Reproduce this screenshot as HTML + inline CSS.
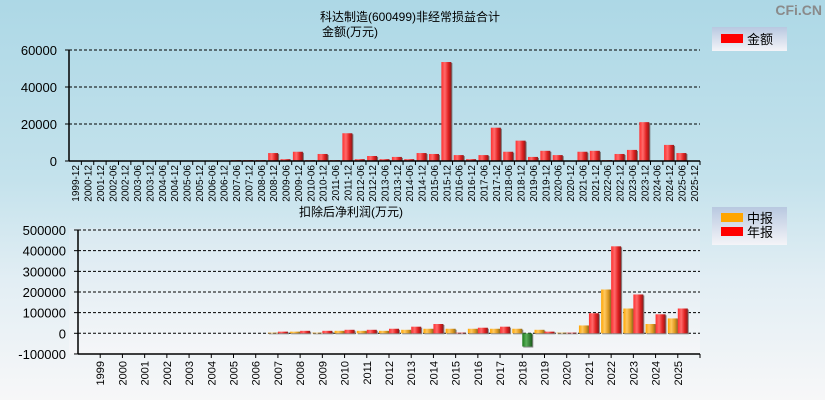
<!DOCTYPE html>
<html><head><meta charset="utf-8"><style>
html,body{margin:0;padding:0;}
body{width:825px;height:400px;overflow:hidden;background:linear-gradient(#add8e6 0%,#c4e2ec 45%,#e2eef4 70%,#f7f7f8 100%);font-family:"Liberation Sans","Noto Sans CJK SC",sans-serif;}
svg{position:absolute;left:0;top:0;}
text{font-family:"Liberation Sans","Noto Sans CJK SC",sans-serif;}
</style></head><body>
<svg id="c" width="825" height="400" xmlns="http://www.w3.org/2000/svg">
<defs>
<linearGradient id="plot2" x1="0" y1="0" x2="0" y2="1"><stop offset="0" stop-color="#d9e9f1"/><stop offset="1" stop-color="#f5f6f8"/></linearGradient>
<linearGradient id="gRed" x1="0" y1="0" x2="1" y2="0"><stop offset="0" stop-color="#ff3030"/><stop offset="0.35" stop-color="#ff6a6a"/><stop offset="0.7" stop-color="#e02020"/><stop offset="1" stop-color="#8a1a1a"/></linearGradient>
<linearGradient id="gOr" x1="0" y1="0" x2="1" y2="0"><stop offset="0" stop-color="#ffa500"/><stop offset="0.35" stop-color="#ffc860"/><stop offset="0.7" stop-color="#e09a20"/><stop offset="1" stop-color="#8a6a20"/></linearGradient>
<linearGradient id="gGr" x1="0" y1="0" x2="1" y2="0"><stop offset="0" stop-color="#1a7a1a"/><stop offset="0.4" stop-color="#5ab05a"/><stop offset="1" stop-color="#1a5a1a"/></linearGradient>
<linearGradient id="gLeg" x1="0" y1="0" x2="0" y2="1"><stop offset="0" stop-color="#b8c8e0"/><stop offset="1" stop-color="#f4f4f8"/></linearGradient>
</defs>
<rect x="69" y="228" width="631" height="126" fill="url(#plot2)"/>
<text x="822" y="15" text-anchor="end" font-size="14" font-weight="bold" fill="#8a8a8a">CFi.CN</text>
<text x="410" y="21" text-anchor="middle" font-size="12" fill="#000">科达制造(600499)非经常损益合计</text>
<text x="350" y="36" text-anchor="middle" font-size="12" fill="#000">金额(万元)</text>
<text x="351" y="216" text-anchor="middle" font-size="12" fill="#000">扣除后净利润(万元)</text>
<g>
<rect x="712" y="27" width="75" height="24" fill="url(#gLeg)"/>
<rect x="721" y="34" width="22" height="9" fill="#ff0000"/>
<text x="747" y="44" font-size="13">金额</text>
</g>
<g>
<rect x="712" y="207" width="75" height="38" fill="url(#gLeg)"/>
<rect x="721" y="213" width="22" height="9" fill="#ffa500"/>
<text x="747" y="223" font-size="13">中报</text>
<rect x="721" y="227" width="22" height="9" fill="#ff0000"/>
<text x="747" y="237" font-size="13">年报</text>
</g>
<g id="top"></g><g id="bot"></g>
</svg>
<script>
const topCats=["1999-12","2000-12","2001-12","2002-06","2002-12","2003-06","2003-12","2004-06","2004-12","2005-06","2005-12","2006-06","2006-12","2007-06","2007-12","2008-06","2008-12","2009-06","2009-12","2010-06","2010-12","2011-06","2011-12","2012-06","2012-12","2013-06","2013-12","2014-06","2014-12","2015-06","2015-12","2016-06","2016-12","2017-06","2017-12","2018-06","2018-12","2019-06","2019-12","2020-06","2020-12","2021-06","2021-12","2022-06","2022-12","2023-06","2023-12","2024-06","2024-12","2025-06","2025-12"];
const topVals=[0,0,0,0,0,0,0,0,0,0,0,0,0,500,500,500,4300,1000,5000,500,3800,500,15000,1000,2700,1000,2200,1000,4300,3800,53500,3200,1000,3200,18000,5000,11000,2200,5500,3200,0,5000,5500,500,3800,6000,21000,0,8700,4300,0];
const topTicks=[0,20000,40000,60000];
const botCats=["1999","2000","2001","2002","2003","2004","2005","2006","2007","2008","2009","2010","2011","2012","2013","2014","2015","2016","2017","2018","2019","2020","2021","2022","2023","2024","2025"];
const interim=[0,0,0,0,0,0,0,0,3000,8000,3000,12000,12000,12000,17000,22000,22000,22000,22000,22000,17000,3000,38000,212000,120000,45000,72000];
const annual=[0,0,0,0,0,0,0,0,8000,12000,12000,17000,17000,22000,32000,45000,3000,27000,32000,-64000,8000,3000,97000,421000,188000,92000,120000];
const botTicks=[-100000,0,100000,200000,300000,400000,500000];

const NS="http://www.w3.org/2000/svg";
function mk(p,t,a,txt){const e=document.createElementNS(NS,t);for(const k in a)e.setAttribute(k,a[k]);if(txt!=null)e.textContent=txt;p.appendChild(e);return e;}
// top chart axes
const T=document.getElementById('top');
const tx0=69,tx1=700,tslot=(tx1-tx0)/topCats.length;
const ty=v=>161-v*(111/60000);
topTicks.forEach(v=>{
  const y=ty(v);
  if(v!==0){const g=mk(T,'line',{x1:tx0,x2:tx1,y1:y,y2:y,stroke:'#000','stroke-dasharray':'3,2','stroke-width':1});
  
  }
  const tk=mk(T,'line',{x1:tx0-4,x2:tx0,y1:y,y2:y,stroke:'#000'});
  
  
  const l=mk(T,'text',{x:57,y:y+5,'text-anchor':'end','font-size':13},String(v));
  
  
});
topCats.forEach((c,i)=>{
  const cx=tx0+(i+0.5)*tslot,v=topVals[i];
  if(v>0){const h=161-ty(v);
    const s=mk(T,'rect',{x:cx-4,y:ty(v)+1,width:10,height:h-1,fill:'#777'});
    
    
    const b=mk(T,'rect',{x:cx-5,y:ty(v),width:10,height:h,fill:'url(#gRed)'});
    
    }
  const tk=mk(T,'line',{x1:tx0+(i+1)*tslot,x2:tx0+(i+1)*tslot,y1:161,y2:165,stroke:'#000'});
  
  
  const l=mk(T,'text',{x:0,y:0,'font-size':10,'text-anchor':'end',transform:`translate(${cx+4},165) rotate(-90)`},c);
  
  
});
let a=mk(T,'line',{x1:tx0,x2:tx0,y1:50,y2:161,stroke:'#000','stroke-width':1.5});


a=mk(T,'line',{x1:tx0,x2:tx1,y1:161,y2:161,stroke:'#000','stroke-width':1.5});



// bottom chart
const B=document.getElementById('bot');
const bx0=78,bx1=700,bslot=(bx1-bx0)/(botCats.length+1);
const by=v=>333.3-v*(103.3/500000);
botTicks.forEach(v=>{
  const y=by(v);
  if(v!==-100000){const g=mk(B,'line',{x1:bx0,x2:bx1,y1:y,y2:y,stroke:'#000','stroke-dasharray':'3,2','stroke-width':1});
  
  }
  const tk=mk(B,'line',{x1:bx0-4,x2:bx0,y1:y,y2:y,stroke:'#000'});
  
  
  const l=mk(B,'text',{x:66,y:y+5,'text-anchor':'end','font-size':13},String(v));
  
  
});
function bar(cx,v,fill,name){
  if(v===0)return;
  const y0=by(0),y1=by(v),top=Math.min(y0,y1),h=Math.abs(y1-y0);
  const s=mk(B,'rect',{x:cx+1,y:top+1,width:10,height:h,fill:'#888'});
  
  
  const b=mk(B,'rect',{x:cx,y:top,width:10,height:h,fill:v<0?'url(#gGr)':fill});
  
  
}
botCats.forEach((c,i)=>{
  const cx=bx0+(i+1)*bslot;
  bar(cx-10,interim[i],'url(#gOr)','interim-bar-'+c);
  bar(cx,annual[i],'url(#gRed)','annual-bar-'+c);
  const tk=mk(B,'line',{x1:cx,x2:cx,y1:354,y2:358,stroke:'#000'});
  
  
  const l=mk(B,'text',{x:0,y:0,'font-size':11,'text-anchor':'end',transform:`translate(${cx+4},361) rotate(-90)`},c);
  
  
});
a=mk(B,'line',{x1:bx0,x2:bx0,y1:230,y2:354,stroke:'#000','stroke-width':1.5});


a=mk(B,'line',{x1:bx0,x2:bx1,y1:354,y2:354,stroke:'#000','stroke-width':1.5});


a=mk(B,'line',{x1:bx1,x2:bx1,y1:354,y2:358,stroke:'#000'});


</script>
</body></html>
